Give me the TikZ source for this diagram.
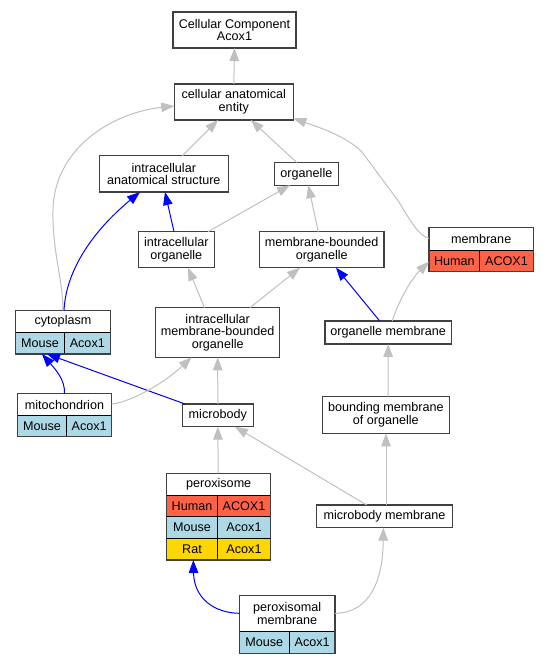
\documentclass[tikz,border=0pt]{standalone}
\usepackage{fontspec}
\setmainfont{Liberation Sans}
\usetikzlibrary{arrows.meta}
\definecolor{human}{RGB}{255,99,71}
\definecolor{mouse}{RGB}{173,216,230}
\definecolor{rat}{RGB}{255,215,0}
\definecolor{edgegray}{RGB}{192,192,192}
\definecolor{edgeblue}{RGB}{0,0,255}
\definecolor{border}{RGB}{64,64,64}
\begin{document}
\begin{tikzpicture}[x=1pt,y=-1pt,
  every node/.style={font=\fontsize{12.6}{12.7}\selectfont, inner sep=0pt, outer sep=0pt},
  box/.style={draw=border, line width=1.2pt, fill=white, align=center},
  tblbox/.style={fill=white},
  tblframe/.style={draw=border, line width=1.2pt},
  cell/.style={draw=black, line width=0.9pt, anchor=north west},
  isa/.style={draw=edgegray, line width=1pt, -{Triangle[length=13pt,width=9.5pt]}},
  partof/.style={draw=edgeblue, line width=1pt, -{Triangle[length=13pt,width=9.5pt]}},
]
\useasboundingbox (0,0) rectangle (549,664);
\fill[white] (0,0) rectangle (549,664);

% simple boxes
\node[box, minimum width=123pt, minimum height=36pt] (cc) at (234.5,30) {Cellular Component\\Acox1};
\node[box, minimum width=119pt, minimum height=36pt] (cae) at (233.8,102) {cellular anatomical\\entity};
\node[box, minimum width=129pt, minimum height=36.3pt] (ias) at (163.8,173.9) {intracellular\\anatomical structure};
\node[box, minimum width=64pt, minimum height=22.7pt] (org) at (306.4,173.85) {organelle};
\node[box, minimum width=76pt, minimum height=36pt] (io) at (176.3,249.7) {intracellular\\organelle};
\node[box, minimum width=124.7pt, minimum height=36pt] (mbo) at (321.7,249.7) {membrane-bounded\\organelle};
\node[box, minimum width=124pt, minimum height=49.6pt] (imbo) at (217.7,332.5) {intracellular\\membrane-bounded\\organelle};
\node[box, minimum width=126.3pt, minimum height=23pt] (om) at (388.2,332.5) {organelle membrane};
\node[box, minimum width=71pt, minimum height=22.7pt] (mb) at (217.8,415.35) {microbody};
\node[box, minimum width=127pt, minimum height=36.6pt] (bmo) at (385.8,415) {bounding membrane\\of organelle};
\node[box, minimum width=135.6pt, minimum height=22.7pt] (mm) at (384.5,516.35) {microbody membrane};

% membrane table
\node[tblbox, minimum width=104.3pt, minimum height=44pt] (mem) at (481.15,249.7) {};
\node (memT) at (481.15,239.2) {membrane};
\node[cell, fill=human, minimum width=50.7pt, minimum height=21pt] (memA) at (429,250.7) {Human};
\node[cell, fill=human, minimum width=53.6pt, minimum height=21pt] (memB) at (479.7,250.7) {ACOX1};
\draw[tblframe] (mem.north west) rectangle (mem.south east);

% cytoplasm table
\node[tblbox, minimum width=94.6pt, minimum height=43.3pt] (cyto) at (63,332.35) {};
\node (cytoT) at (63,321.7) {cytoplasm};
\node[cell, fill=mouse, minimum width=48.6pt, minimum height=21.3pt] (cytoA) at (15.7,332.7) {Mouse};
\node[cell, fill=mouse, minimum width=46pt, minimum height=21.3pt] (cytoB) at (64.3,332.7) {Acox1};
\draw[tblframe] (cyto.north west) rectangle (cyto.south east);

% mitochondrion table
\node[tblbox, minimum width=94.4pt, minimum height=43.4pt] (mito) at (64.5,415) {};
\node (mitoT) at (64.5,404.5) {mitochondrion};
\node[cell, fill=mouse, minimum width=49.4pt, minimum height=21pt] (mitoA) at (17.3,415.7) {Mouse};
\node[cell, fill=mouse, minimum width=45pt, minimum height=21pt] (mitoB) at (66.7,415.7) {Acox1};
\draw[tblframe] (mito.north west) rectangle (mito.south east);

% peroxisome table
\node[tblbox, minimum width=104pt, minimum height=86.7pt] (per) at (218.7,516.65) {};
\node (perT) at (218.7,484.5) {peroxisome};
\node[cell, fill=human, minimum width=50.6pt, minimum height=21pt] (perHA) at (166.7,495.7) {Human};
\node[cell, fill=human, minimum width=53.4pt, minimum height=21pt] (perHB) at (217.3,495.7) {ACOX1};
\node[cell, fill=mouse, minimum width=50.6pt, minimum height=21.6pt] (perMA) at (166.7,516.7) {Mouse};
\node[cell, fill=mouse, minimum width=53.4pt, minimum height=21.6pt] (perMB) at (217.3,516.7) {Acox1};
\node[cell, fill=rat, minimum width=50.6pt, minimum height=21.7pt] (perRA) at (166.7,538.3) {Rat};
\node[cell, fill=rat, minimum width=53.4pt, minimum height=21.7pt] (perRB) at (217.3,538.3) {Acox1};
\draw[tblframe] (per.north west) rectangle (per.south east);

% peroxisomal membrane table
\node[tblbox, minimum width=95.7pt, minimum height=57.6pt] (pm) at (287.15,624.5) {};
\node[align=center] (pmT) at (287.15,613.7) {peroxisomal\\membrane};
\node[cell, fill=mouse, minimum width=50pt, minimum height=21.6pt] (pmA) at (239.3,631.7) {Mouse};
\node[cell, fill=mouse, minimum width=45.7pt, minimum height=21.6pt] (pmB) at (289.3,631.7) {Acox1};
\draw[tblframe] (pm.north west) rectangle (pm.south east);

% edges
\draw[isa] (cae.north) -- (cc.south);
\draw[isa] ([xshift=18.5pt]ias.north) -- ([xshift=-15.7pt]cae.south);
\draw[isa] ([xshift=-9.7pt]org.north) -- ([xshift=17pt]cae.south);
\draw[isa] ([yshift=11.4pt]mem.west) .. controls (419,236) and (411,222) .. (399,202) -- (362,152) .. controls (346,136) and (318,127) .. ([yshift=1.7pt]cae.south east);
\draw[isa] (cyto.north) .. controls (63,280) and (52,250) .. (53,210) .. controls (54,150) and (110,113) .. ([yshift=-4pt]cae.west);
\draw[partof] ([xshift=1pt]cyto.north) .. controls (66,265) and (100,225) .. ([xshift=-23.8pt]ias.south);
\draw[partof] ([xshift=-2.3pt]io.north) -- ([xshift=1.2pt]ias.south);
\draw[isa] ([xshift=31.7pt]io.north) -- ([xshift=-16.4pt]org.south);
\draw[isa] ([xshift=-3.4pt]mbo.north) -- ([xshift=1.9pt]org.south);
\draw[isa] ([xshift=-13.2pt]imbo.north) -- ([xshift=11.7pt]io.south);
\draw[isa] ([xshift=32.3pt]imbo.north) -- ([xshift=-21.7pt]mbo.south);
\draw[partof] ([xshift=-8.5pt]om.north) -- ([xshift=14.3pt]mbo.south);
\draw[isa] ([xshift=4.1pt]om.north) .. controls (397,305) and (410,280) .. ([yshift=-12pt]mem.west);
\draw[isa] ([xshift=2.2pt]bmo.north) -- (om.south);
\draw[partof] (mito.north) .. controls (65,380) and (56,370) .. ([xshift=-21pt]cyto.south);
\draw[partof] ([xshift=2.7pt]mb.north west) -- ([xshift=-16pt]cyto.south);
\draw[isa] ([yshift=11pt]mito.east) .. controls (130,402) and (162,385) .. ([xshift=-26pt]imbo.south);
\draw[isa] (mb.north) -- (imbo.south);
\draw[isa] ([xshift=-0.5pt]per.north) -- (mb.south);
\draw[isa] ([xshift=-17.8pt]mm.north) -- ([xshift=17.2pt]mb.south);
\draw[isa] ([xshift=1.5pt]mm.north) -- ([xshift=0.2pt]bmo.south);
\draw[partof] ([yshift=11.2pt]pm.west) .. controls (214,613) and (194,598) .. ([xshift=-25.4pt]per.south);
\draw[isa] ([yshift=11.2pt]pm.east) .. controls (370,613) and (383,580) .. ([xshift=-1.2pt]mm.south);
\end{tikzpicture}
\end{document}
